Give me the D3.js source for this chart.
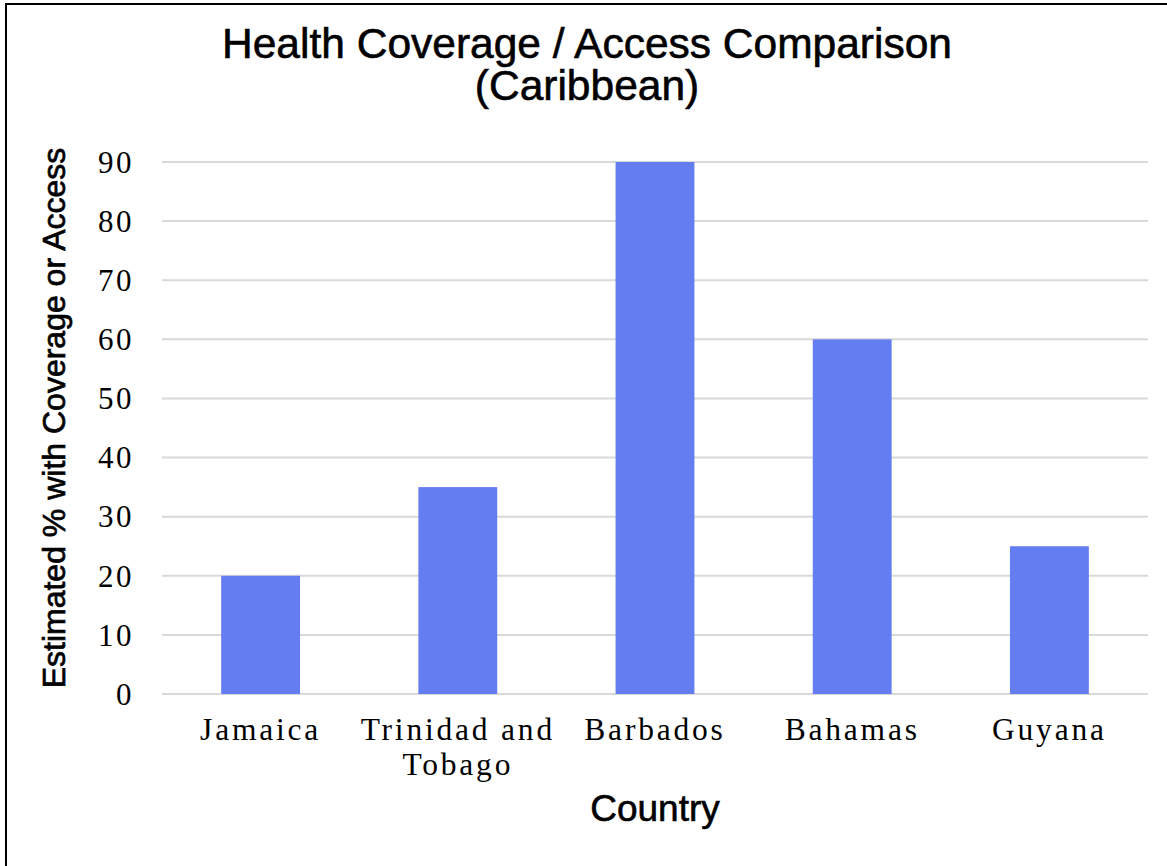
<!DOCTYPE html>
<html>
<head>
<meta charset="utf-8">
<script src="https://cdn.jsdelivr.net/npm/d3@7"></script>
<style>
  html, body { margin: 0; padding: 0; background: #fff; }
  svg { display: block; }
</style>
</head>
<body>
<svg id="chart" width="1167" height="866"></svg>
<script>
// Chart data
const countries = ["Jamaica", "Trinidad and Tobago", "Barbados", "Bahamas", "Guyana"];
const coverage = [20, 35, 90, 60, 25];
const yTicks = [0, 10, 20, 30, 40, 50, 60, 70, 80, 90];
const titleLines = ["Health Coverage / Access Comparison", "(Caribbean)"];
const xTitle = "Country";
const yTitle = "Estimated % with Coverage or Access";

const W = 1167, H = 866;
const plot = { left: 162, right: 1148, top: 162, bottom: 694 };
const barColor = "#647df0";
const sans = "'Liberation Sans', Arial, sans-serif";
const serif = "'Liberation Serif', 'Times New Roman', serif";

const svg = d3.select("#chart");

svg.append("rect").attr("width", W).attr("height", H).attr("fill", "#fff");
// outer frame
svg.append("rect")
  .attr("x", 6).attr("y", 4)
  .attr("width", W + 20).attr("height", H + 20)
  .attr("fill", "none").attr("stroke", "#000").attr("stroke-width", 2);

const x = d3.scaleBand().domain(countries).range([plot.left, plot.right]).paddingInner(0.6).paddingOuter(0.3);
const y = d3.scaleLinear().domain([0, 90]).range([plot.bottom, plot.top]);

// horizontal gridlines
svg.append("g").selectAll("line").data(yTicks).join("line")
  .attr("x1", plot.left).attr("x2", plot.right)
  .attr("y1", d => y(d)).attr("y2", d => y(d))
  .attr("stroke", "#d9d9d9").attr("stroke-width", 2);

// bars
svg.append("g").selectAll("rect").data(countries).join("rect")
  .attr("x", d => x(d))
  .attr("width", x.bandwidth())
  .attr("y", (d, i) => y(coverage[i]))
  .attr("height", (d, i) => y(0) - y(coverage[i]))
  .attr("fill", barColor);

// y axis (labels only)
const yAxis = d3.axisLeft(y).tickValues(yTicks).tickSize(0).tickPadding(0);
const gy = svg.append("g").attr("transform", `translate(${plot.left - 28},0)`).call(yAxis);
gy.select(".domain").remove();
gy.selectAll("text")
  .attr("font-family", serif).attr("font-size", 31)
  .attr("letter-spacing", "2.5px")
  .attr("fill", "#000").attr("dy", "0.33em");

// x axis (labels only, wrapped)
const xAxis = d3.axisBottom(x).tickSize(0).tickPadding(0);
const gx = svg.append("g").attr("transform", `translate(0,${plot.bottom})`).call(xAxis);
gx.select(".domain").remove();
gx.selectAll("text").each(function(d) {
  const t = d3.select(this);
  t.text(null).attr("y", 0).attr("dy", null)
    .attr("font-family", serif).attr("font-size", 31.5)
    .attr("letter-spacing", "2.8px").attr("fill", "#000");
  const lines = d === "Trinidad and Tobago" ? ["Trinidad and", "Tobago"] : [d];
  lines.forEach((ln, i) => {
    t.append("tspan").attr("x", 0).attr("y", 46 + i * 35).text(ln);
  });
});

// title
svg.append("text")
  .attr("text-anchor", "middle")
  .attr("font-family", sans).attr("font-size", 42.5).attr("fill", "#000")
  .attr("stroke", "#000").attr("stroke-width", 0.6)
  .selectAll("tspan").data(titleLines).join("tspan")
  .attr("x", 587).attr("y", (d, i) => 58 + i * 42)
  .text(d => d);

// axis titles
svg.append("text")
  .attr("x", (plot.left + plot.right) / 2).attr("y", 821)
  .attr("text-anchor", "middle")
  .attr("font-family", sans).attr("font-size", 37).attr("fill", "#000")
  .attr("stroke", "#000").attr("stroke-width", 0.6)
  .text(xTitle);

svg.append("text")
  .attr("transform", `translate(65,${(148 + 688) / 2}) rotate(-90)`)
  .attr("text-anchor", "middle")
  .attr("font-family", sans).attr("font-size", 32).attr("fill", "#000")
  .attr("stroke", "#000").attr("stroke-width", 0.7)
  .text(yTitle);
</script>
</body>
</html>
